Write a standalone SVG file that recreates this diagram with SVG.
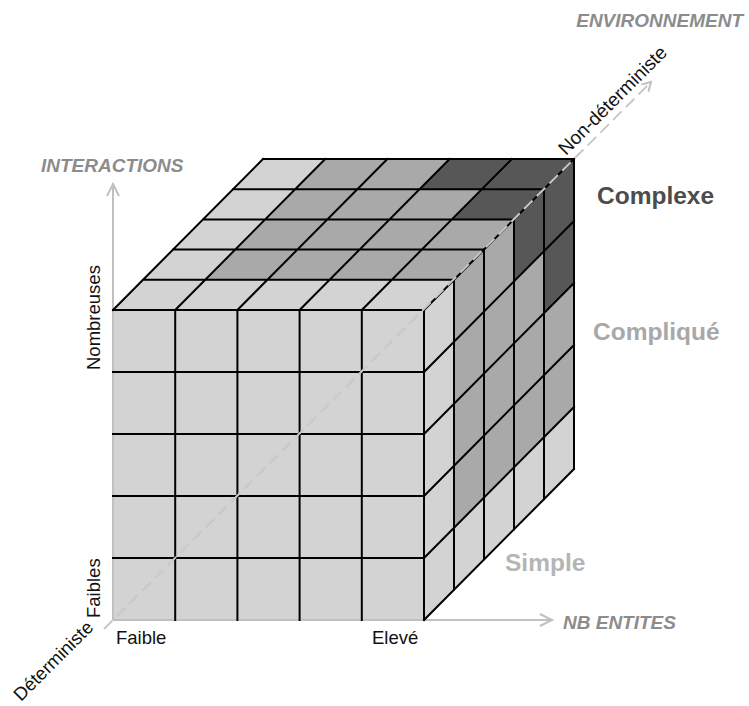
<svg xmlns="http://www.w3.org/2000/svg" width="749" height="706" viewBox="0 0 749 706">
<defs>
<style>
.L{fill:#d3d3d3}
.M{fill:#a9a9a9}
.D{fill:#575757}
.grid{fill:none;stroke:#000;stroke-width:2;stroke-linecap:square}
.axis{fill:none;stroke:#c0c0c0;stroke-width:2}
.dash{fill:none;stroke:#c8c8c8;stroke-width:2;stroke-dasharray:12 6}
.ax{font-family:"Liberation Sans",Arial,sans-serif;font-size:19px;font-weight:bold;font-style:italic;fill:#8c8c8c}
.lbl{font-family:"Liberation Sans",Arial,sans-serif;font-size:18.5px;fill:#111}
.diag{font-size:19px}
.big{font-family:"Liberation Sans",Arial,sans-serif;font-size:24.5px;font-weight:bold}
</style>
<marker id="chev" markerUnits="userSpaceOnUse" markerWidth="16" markerHeight="16" viewBox="0 0 16 16" refX="14" refY="8" orient="auto" overflow="visible">
<path d="M2,2 L14,8 L2,14" fill="none" stroke="#c0c0c0" stroke-width="2"/>
</marker>
</defs>
<rect width="749" height="706" fill="#fff"/>

<g id="front-face">
<rect class="L" x="113" y="310" width="311" height="310"/>
</g>
<g id="top-face">
<polygon class="L" points="113,310 424,310 574,159 263,159"/>
<polygon class="M" points="205.2,279.8 454,279.8 574,159 325.2,159"/>
<polygon class="D" points="451.8,219.4 514,219.4 574,159 449.6,159 419.6,189.2 481.8,189.2"/>
</g>
<g id="right-face">
<polygon class="L" points="424,620 574,469 574,159 424,310"/>
<polygon class="M" points="454,527.8 574,407 574,159 454,279.8"/>
<polygon class="D" points="514,281.4 544,251.2 544,313.2 574,283 574,159 544,189.2 514,219.4"/>
</g>

<g id="axes">
<line class="axis" x1="113" y1="620" x2="113" y2="184" marker-end="url(#chev)"/>
<line class="axis" x1="113" y1="620" x2="552" y2="620" marker-end="url(#chev)"/>
</g>

<g id="grid">
<path class="grid" d="M175.2,310V620M237.4,310V620M299.6,310V620M361.8,310V620M424,310V620
M113,558H424M113,496H424M113,434H424M113,372H424M113,310H424"/>
<path class="grid" d="M143,279.8H454M173,249.6H484M203,219.4H514M233,189.2H544M263,159H574
M113,310L263,159M175.2,310L325.2,159M237.4,310L387.4,159M299.6,310L449.6,159M361.8,310L511.8,159M424,310L574,159"/>
<path class="grid" d="M454,279.8V589.8M484,249.6V559.6M514,219.4V529.4M544,189.2V499.2M574,159V469
M424,620L574,469M424,558L574,407M424,496L574,345M424,434L574,283M424,372L574,221"/>
</g>

<g id="environment-axis">
<line class="dash" x1="104" y1="629" x2="651" y2="82"/>
<path d="M641.3,84.6 L651,82 L648.4,91.7" fill="none" stroke="#c0c0c0" stroke-width="2"/>
</g>

<g id="labels">
<text class="ax" x="41" y="172">INTERACTIONS</text>
<text class="ax" x="743" y="27" text-anchor="end">ENVIRONNEMENT</text>
<text class="ax" x="563" y="629">NB ENTITES</text>
<text class="big" x="597" y="204" fill="#4c4c4c">Complexe</text>
<text class="big" x="593" y="340" fill="#a8a8a8">Compliqué</text>
<text class="big" x="505" y="571" fill="#b5b5b5">Simple</text>
<text class="lbl" transform="translate(100,370) rotate(-90)">Nombreuses</text>
<text class="lbl" transform="translate(100,618) rotate(-90)">Faibles</text>
<text class="lbl" x="116" y="644">Faible</text>
<text class="lbl" x="372" y="644">Elevé</text>
<text class="lbl" transform="translate(21,702) rotate(-45)">Déterministe</text>
<text class="lbl diag" transform="translate(566,156) rotate(-45)">Non-déterministe</text>
</g>
</svg>
